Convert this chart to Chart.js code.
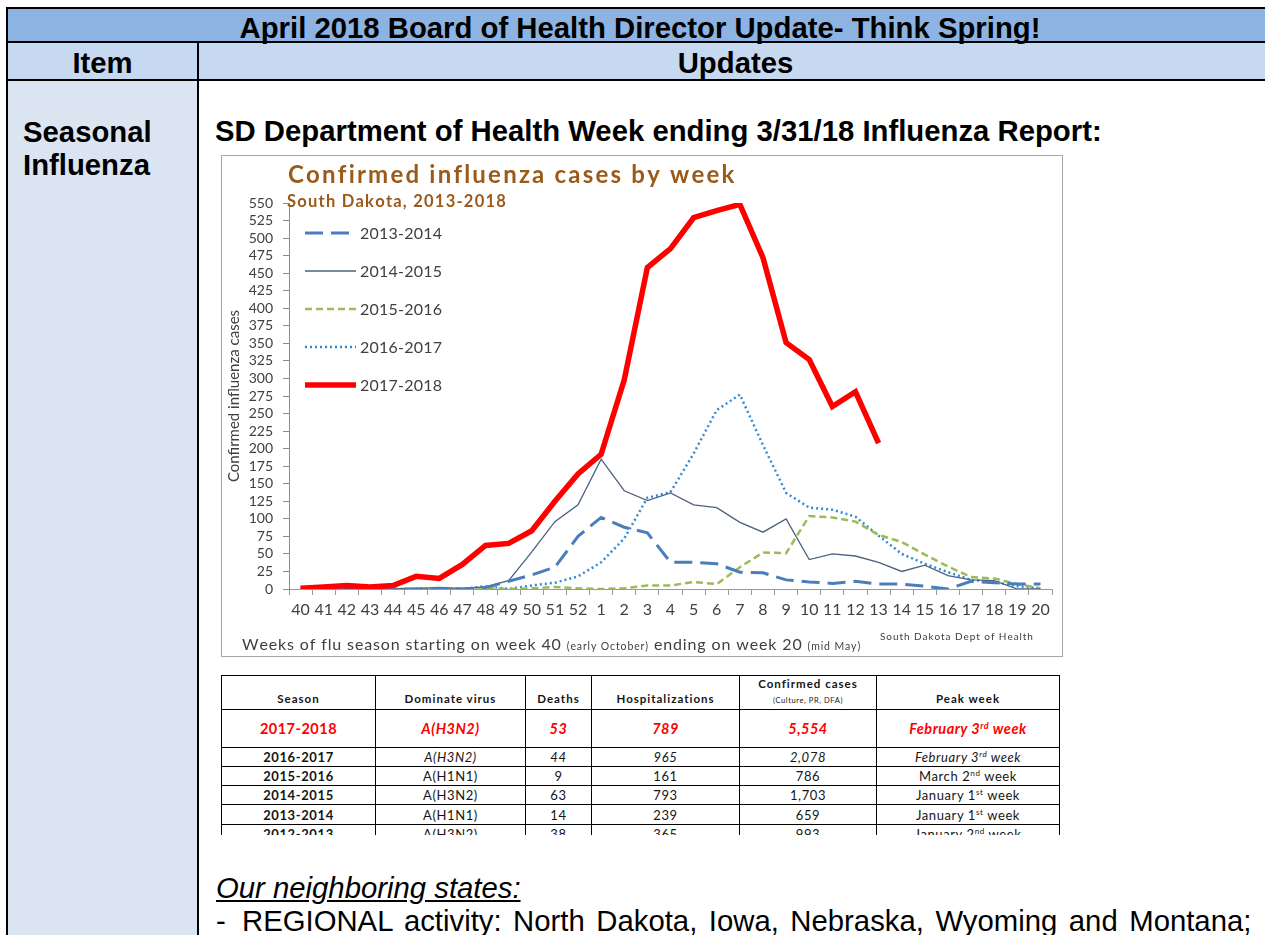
<!DOCTYPE html>
<html>
<head>
<meta charset="utf-8">
<title>April 2018 Board of Health Director Update</title>
<script src="https://cdn.jsdelivr.net/npm/chart.js"></script>
<style>
  body { margin: 0; width: 1265px; height: 935px; overflow: hidden; background: #fff;
         font-family: "Liberation Sans", Arial, sans-serif; }
  .rule { position: absolute; background: #000; }
  .band { position: absolute; }
  .doc { position: absolute; font-size: 29.3px; line-height: 33px; white-space: nowrap; color: #000; }
  .b { font-weight: bold; }
  #chartBox { position: absolute; left: 221px; top: 155px; width: 840px; height: 500px;
              border: 1px solid #a6a6a6; background: #fff; }
  #fluChart { display: block; }
  #tableBox { position: absolute; left: 221px; top: 675px; width: 842px; height: 160px; overflow: hidden; }
  table.stats { border-collapse: collapse; table-layout: fixed; font-family: Lato, "Open Sans", sans-serif; color: #151515; }
  table.stats td { border: 1px solid #000; text-align: center; padding: 0; white-space: nowrap; overflow: hidden;
                   font-size: 13px; letter-spacing: 0.6px; line-height: 16px; }
  table.stats tr.head td { font-weight: bold; font-size: 11.5px; letter-spacing: 1px; vertical-align: bottom;
                           padding-bottom: 3px; line-height: 15px; }
  table.stats tr.head .tiny { font-weight: normal; font-size: 7.5px; letter-spacing: 0.6px; line-height: 11px; }
  table.stats tr.hot td { color: #ff0000; font-weight: bold; font-style: italic; font-size: 14.5px; letter-spacing: 0.5px; }
  table.stats tr.hot td.season { font-style: normal; }
  table.stats td.season { font-weight: bold; }
  table.stats tr.ital td { font-style: italic; }
  table.stats tr.ital td.season { font-style: normal; }
  sup { font-size: 62%; line-height: 0; vertical-align: 5px; }
</style>
</head>
<body>

<!-- outer document table -->
<div class="band" style="left:8px;top:9px;width:1265px;height:32px;background:#8db3e2"></div>
<div class="band" style="left:8px;top:43px;width:1265px;height:36px;background:#c6d9f1"></div>
<div class="band" style="left:8px;top:81px;width:189px;height:854px;background:#dbe5f1"></div>
<div class="rule" style="left:6px;top:7px;width:1270px;height:2px"></div>
<div class="rule" style="left:6px;top:41px;width:1270px;height:2px"></div>
<div class="rule" style="left:6px;top:79px;width:1270px;height:2px"></div>
<div class="rule" style="left:6px;top:7px;width:2px;height:928px"></div>
<div class="rule" style="left:197px;top:41px;width:2px;height:894px"></div>

<div class="doc b" style="left:8px;top:11px;width:1264px;text-align:center">April 2018 Board of Health Director Update- Think Spring!</div>
<div class="doc b" style="left:8px;top:46px;width:189px;text-align:center">Item</div>
<div class="doc b" style="left:199px;top:46px;width:1073px;text-align:center">Updates</div>
<div class="doc b" style="left:23px;top:115px">Seasonal<br>Influenza</div>
<div class="doc b" style="left:215px;top:114px">SD Department of Health Week ending 3/31/18 Influenza Report:</div>

<div id="chartBox"><canvas id="fluChart" width="840" height="500"></canvas></div>

<div id="tableBox">
<table class="stats">
  <colgroup>
    <col style="width:154px"><col style="width:150px"><col style="width:66px">
    <col style="width:148px"><col style="width:137px"><col style="width:183px">
  </colgroup>
  <tr class="head" style="height:33px">
    <td>Season</td><td>Dominate virus</td><td>Deaths</td><td>Hospitalizations</td>
    <td>Confirmed cases<br><span class="tiny">(Culture, PR, DFA)</span></td><td>Peak week</td>
  </tr>
  <tr class="hot" style="height:38px">
    <td class="season">2017-2018</td><td>A(H3N2)</td><td>53</td><td>789</td><td>5,554</td><td>February 3<sup>rd</sup> week</td>
  </tr>
  <tr class="ital" style="height:19px">
    <td class="season">2016-2017</td><td>A(H3N2)</td><td>44</td><td>965</td><td>2,078</td><td>February 3<sup>rd</sup> week</td>
  </tr>
  <tr style="height:19px">
    <td class="season">2015-2016</td><td>A(H1N1)</td><td>9</td><td>161</td><td>786</td><td>March 2<sup>nd</sup> week</td>
  </tr>
  <tr style="height:19px">
    <td class="season">2014-2015</td><td>A(H3N2)</td><td>63</td><td>793</td><td>1,703</td><td>January 1<sup>st</sup> week</td>
  </tr>
  <tr style="height:20px">
    <td class="season">2013-2014</td><td>A(H1N1)</td><td>14</td><td>239</td><td>659</td><td>January 1<sup>st</sup> week</td>
  </tr>
  <tr style="height:19px">
    <td class="season">2012-2013</td><td>A(H3N2)</td><td>38</td><td>365</td><td>993</td><td>January 2<sup>nd</sup> week</td>
  </tr>
</table>
</div>

<div class="doc" style="left:216px;top:871px;font-style:italic;text-decoration:underline">Our neighboring states:</div>
<div class="doc" style="left:216px;top:904px">-&nbsp; <span style="word-spacing:3.4px">REGIONAL activity: North Dakota, Iowa, Nebraska, Wyoming and Montana;</span></div>

<script>
// weeks of the flu season, week 40 through week 20
const weeks = ['40', '41', '42', '43', '44', '45', '46', '47', '48', '49', '50', '51', '52',
  '1', '2', '3', '4', '5', '6', '7', '8', '9', '10', '11', '12', '13', '14', '15', '16', '17', '18', '19', '20'];

const seasons = ['2013-2014', '2014-2015', '2015-2016', '2016-2017', '2017-2018'];

const cases1314 = [0, 0, 1, 0, 0, 0, 1, 0, 2, 11, 20, 31, 75,
  102, 88, 80, 38, 38, 36, 24, 23, 13, 10, 8, 11, 7, 7, 4, 0, 11, 9, 7, 7];
const cases1415 = [0, 0, 1, 0, 0, 1, 2, 1, 3, 12, 53, 96, 120,
  185, 140, 126, 137, 120, 116, 95, 81, 100, 42, 50, 47, 38, 25, 34, 19, 13, 12, 0, 0];
const cases1516 = [0, 0, 0, 0, 0, 0, 0, 0, 1, 0, 1, 3, 1,
  0, 1, 5, 5, 10, 7, 31, 52, 51, 104, 102, 96, 77, 67, 49, 32, 17, 15, 7, 1];
const cases1617 = [0, 0, 0, 0, 0, 0, 1, 0, 4, 0, 5, 9, 18,
  38, 72, 130, 138, 193, 255, 277, 205, 137, 116, 113, 103, 76, 50, 36, 24, 13, 10, 4, 1];
const cases1718 = [1, 3, 5, 3, 5, 18, 15, 35, 62, 65, 83, 125, 164,
  192, 298, 458, 485, 529, 539, 548, 472, 351, 327, 260, 281, 208, null, null, null, null, null, null, null];

const chartTitle = 'Confirmed influenza cases by week';
const chartSubtitle = 'South Dakota, 2013-2018';
const yTitle = 'Confirmed influenza cases';
const sourceNote = 'South Dakota Dept of Health';

Chart.defaults.font.family = 'Lato, "Open Sans", sans-serif';

// draw a run of text pieces, spread so the whole run spans the given width
function spacedText(ctx, runs, x, y, width) {
  let natural = 0, count = 0;
  runs.forEach(([t, f]) => { ctx.font = f; natural += ctx.measureText(t).width; count += t.length; });
  const extra = width ? (width - natural) / Math.max(1, count - 1) : 0;
  let cx = x;
  runs.forEach(([t, f]) => {
    ctx.font = f;
    for (const ch of t) {
      ctx.fillText(ch, cx, y);
      cx += ctx.measureText(ch).width + extra;
    }
  });
}

const chartDecor = {
  id: 'chartDecor',
  afterDraw(chart) {
    const ctx = chart.ctx;
    ctx.save();
    ctx.textAlign = 'left';
    ctx.textBaseline = 'alphabetic';

    ctx.fillStyle = '#9b5a1a';
    spacedText(ctx, [[chartTitle, 'bold 24px Lato']], 66, 27, 445);
    spacedText(ctx, [[chartSubtitle, 'bold 16.5px Lato']], 65, 51, 218);

    // legend inside the plot, top left
    chart.data.datasets.forEach((ds, i) => {
      const y = 77 + i * 38;
      ctx.save();
      ctx.strokeStyle = ds.borderColor;
      ctx.lineWidth = ds.borderWidth;
      ctx.setLineDash(ds.borderDash || []);
      ctx.beginPath();
      ctx.moveTo(83, y);
      ctx.lineTo(134, y);
      ctx.stroke();
      ctx.restore();
      ctx.fillStyle = '#404040';
      spacedText(ctx, [[ds.label, '16px Lato']], 138, y + 6, 82);
    });

    ctx.fillStyle = '#404040';
    spacedText(ctx, [
      ['Weeks of flu season starting on week 40 ', '16px Lato'],
      ['(early October)', '10.5px Lato'],
      [' ending on week 20 ', '16px Lato'],
      ['(mid May)', '10.5px Lato']
    ], 20, 494, 616);
    spacedText(ctx, [[sourceNote, '10px Lato']], 658, 484, 152);
    ctx.restore();
  }
};

new Chart(document.getElementById('fluChart').getContext('2d'), {
  type: 'line',
  data: {
    labels: weeks,
    datasets: [{
      label: seasons[0],
      data: cases1314,
      borderColor: '#4a7ebb',
      borderWidth: 3,
      borderDash: [18, 8],
      order: 1
    }, {
      label: seasons[1],
      data: cases1415,
      borderColor: '#4d6080',
      borderWidth: 1.3,
      order: 1
    }, {
      label: seasons[2],
      data: cases1516,
      borderColor: '#9bbb59',
      borderWidth: 2.5,
      borderDash: [7, 4],
      order: 1
    }, {
      label: seasons[3],
      data: cases1617,
      borderColor: '#2e8bd8',
      borderWidth: 2.5,
      borderDash: [2, 3],
      order: 1
    }, {
      label: seasons[4],
      data: cases1718,
      borderColor: '#ff0000',
      borderWidth: 5.5,
      order: 0
    }]
  },
  options: {
    responsive: false,
    animation: false,
    devicePixelRatio: 1,
    elements: { point: { radius: 0 }, line: { tension: 0 } },
    layout: { padding: { top: 47, right: 10, bottom: 0, left: 0 } },
    plugins: {
      legend: { display: false },
      tooltip: { enabled: false }
    },
    scales: {
      x: {
        offset: true,
        afterFit(scale) { scale.height = 67; },
        grid: { display: true, drawOnChartArea: false, offset: true, tickLength: 6, color: '#9a9a9a' },
        border: { color: '#9a9a9a' },
        ticks: { autoSkip: false, maxRotation: 0, minRotation: 0, padding: 5,
                 color: '#404040', font: { size: 16 } }
      },
      y: {
        min: 0,
        max: 550,
        afterFit(scale) { scale.width = 67; },
        grid: { display: true, drawOnChartArea: false, tickLength: 6, color: '#8c8c8c' },
        border: { color: '#8c8c8c' },
        ticks: { stepSize: 25, autoSkip: false, padding: 10, color: '#404040', font: { size: 14 } },
        title: { display: true, text: yTitle, color: '#404040', font: { size: 15 }, padding: { top: 3 } }
      }
    }
  },
  plugins: [chartDecor]
});
</script>
</body>
</html>
